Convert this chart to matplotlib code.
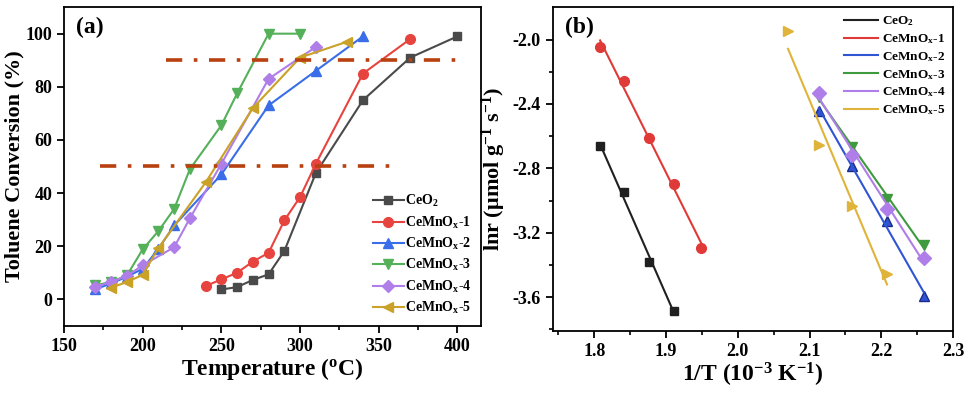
import numpy as np
import matplotlib
matplotlib.use('Agg')
import matplotlib.pyplot as plt

plt.rcParams['font.family'] = ['Liberation Serif', 'DejaVu Serif']
plt.rcParams['font.weight'] = 'bold'
plt.rcParams['axes.labelweight'] = 'bold'
plt.rcParams['mathtext.fontset'] = 'custom'
plt.rcParams['mathtext.rm'] = 'Liberation Serif:bold'
plt.rcParams['mathtext.it'] = 'Liberation Serif:bold'
plt.rcParams['mathtext.bf'] = 'Liberation Serif:bold'

labels = ['CeO$_2$', 'CeMnO$_x$-1', 'CeMnO$_x$-2', 'CeMnO$_x$-3', 'CeMnO$_x$-4', 'CeMnO$_x$-5']

# (a) light-off curves
t_ceo2 = [250, 260, 270, 280, 290, 310, 340, 370, 400]
c_ceo2 = [3.7, 4.6, 7.3, 9.4, 18.2, 47.5, 75, 91, 99]
t_m1 = [240, 250, 260, 270, 280, 290, 300, 310, 340, 370]
c_m1 = [5.0, 7.5, 10, 14.2, 17.5, 29.7, 38.5, 51, 85, 98]
t_m2 = [170, 180, 190, 200, 210, 220, 250, 280, 310, 340]
c_m2 = [3.8, 6, 8.5, 11.5, 19, 27.8, 47, 73, 86, 99]
t_m3 = [170, 180, 190, 200, 210, 220, 230, 250, 260, 280, 300]
c_m3 = [5.3, 6.5, 9, 18.8, 25.7, 34, 49, 65.5, 77.5, 100, 100]
t_m4 = [170, 180, 190, 200, 220, 230, 250, 280, 310]
c_m4 = [4.8, 6.5, 8.8, 12.8, 19.6, 30.5, 51, 83, 95]
t_m5 = [180, 190, 200, 210, 240, 270, 300, 330]
c_m5 = [4.4, 6.5, 9.2, 19.3, 44, 72, 91, 97]

# (b) Arrhenius data
x_ceo2 = [1.808, 1.841, 1.876, 1.911]
y_ceo2 = [-2.663, -2.946, -3.38, -3.683]
x_m1 = [1.808, 1.841, 1.876, 1.911, 1.949]
y_m1 = [-2.048, -2.255, -2.61, -2.90, -3.294]
x_m2 = [2.113, 2.159, 2.208, 2.259]
y_m2 = [-2.441, -2.787, -3.128, -3.594]
x_m3 = [2.113, 2.159, 2.208, 2.259]
y_m3 = [-2.356, -2.669, -2.988, -3.278]
x_m4 = [2.113, 2.159, 2.208, 2.259]
y_m4 = [-2.331, -2.716, -3.05, -3.356]
x_m5 = [2.070, 2.113, 2.159, 2.208]
y_m5 = [-1.948, -2.656, -3.035, -3.455]

cols_a = ['#4a4a4a', '#e8443f', '#3a6ee8', '#55b05a', '#b07ee8', '#c9a227']
cols_b = ['#202020', '#e03a38', '#2f55d4', '#3f9a3f', '#b07ee8', '#e0b33a']
markers = ['s', 'o', '^', 'v', 'D', '<']
msizes = [6, 7, 7, 7, 6, 7]

fig = plt.figure(figsize=(9.69, 3.95), dpi=100)
ax1 = fig.add_axes([0.066, 0.175, 0.4305, 0.807])
ax2 = fig.add_axes([0.5704, 0.162, 0.4131, 0.8195])

temps = [t_ceo2, t_m1, t_m2, t_m3, t_m4, t_m5]
convs = [c_ceo2, c_m1, c_m2, c_m3, c_m4, c_m5]
for i in range(6):
    ax1.plot(temps[i], convs[i], color=cols_a[i], marker=markers[i], ms=msizes[i],
             lw=1.5, label=labels[i])

dash = (0, (4.5, 3.2, 1, 3.2))
ax1.plot([215, 402], [90, 90], color='#b8410f', lw=2.6, linestyle=dash)
ax1.plot([173, 360], [50, 50], color='#b8410f', lw=2.6, linestyle=dash)

ax1.set_xlim(150, 415)
ax1.set_ylim(-10, 110)
ax1.set_xticks([150, 200, 250, 300, 350, 400])
ax1.set_xticks(np.arange(175, 415, 50), minor=True)
ax1.set_yticks([0, 20, 40, 60, 80, 100])
ax1.tick_params(labelsize=13, width=1.3, length=5)
ax1.tick_params(which='minor', width=1.2, length=3)
ax1.set_xlabel('Temperature ($^{\\mathrm{o}}$C)', fontsize=17, labelpad=1)
ax1.set_ylabel('Toluene Conversion (%)', fontsize=16, labelpad=1)
ax1.text(0.03, 0.97, '(a)', transform=ax1.transAxes, fontsize=17, va='top')
ax1.legend(loc='lower right', frameon=False, fontsize=10, handlelength=2.2,
           handletextpad=0.1, labelspacing=0.38, borderaxespad=0.3)

xs = [x_ceo2, x_m1, x_m2, x_m3, x_m4, x_m5]
ys = [y_ceo2, y_m1, y_m2, y_m3, y_m4, y_m5]
bsizes = [6, 7, 7, 7, 7, 7]
bmark = ['s', 'o', '^', 'v', 'D', '>']
for i in range(6):
    ax2.plot(xs[i], ys[i], ls='none', marker=bmark[i], ms=bsizes[i], color=cols_b[i],
             mec='#1a2a8a' if i == 2 else cols_b[i])
    k, b = np.polyfit(xs[i], ys[i], 1)
    xf = np.array([min(xs[i]), max(xs[i])])
    ax2.plot(xf, k * xf + b, color=cols_b[i], lw=1.5, label=labels[i])

ax2.set_xlim(1.742, 2.3)
ax2.set_ylim(-3.81, -1.80)
ax2.set_xticks([1.8, 1.9, 2.0, 2.1, 2.2, 2.3])
ax2.set_xticks(np.arange(1.75, 2.3, 0.1), minor=True)
ax2.set_yticks([-2.0, -2.4, -2.8, -3.2, -3.6])
ax2.set_yticks([-2.2, -2.6, -3.0, -3.4, -3.8], minor=True)
ax2.set_xticklabels(['1.8', '1.9', '2.0', '2.1', '2.2', '2.3'])
ax2.set_yticklabels(['-2.0', '-2.4', '-2.8', '-3.2', '-3.6'])
ax2.tick_params(labelsize=13, width=1.3, length=5)
ax2.tick_params(which='minor', width=1.2, length=3)
ax2.set_xlabel('1/T (10$^{-3}$ K$^{-1}$)', fontsize=17, labelpad=1)
ax2.set_ylabel('lnr (μmol g$^{-1}$ s$^{-1}$)', fontsize=16, labelpad=3)
ax2.text(0.03, 0.97, '(b)', transform=ax2.transAxes, fontsize=17, va='top')
ax2.legend(loc='upper right', frameon=False, fontsize=9.5, handlelength=2.6,
           handletextpad=0.3, labelspacing=0.3, borderaxespad=0.15)

for ax in (ax1, ax2):
    for s in ax.spines.values():
        s.set_linewidth(1.3)

fig.savefig('out.png', dpi=100)
